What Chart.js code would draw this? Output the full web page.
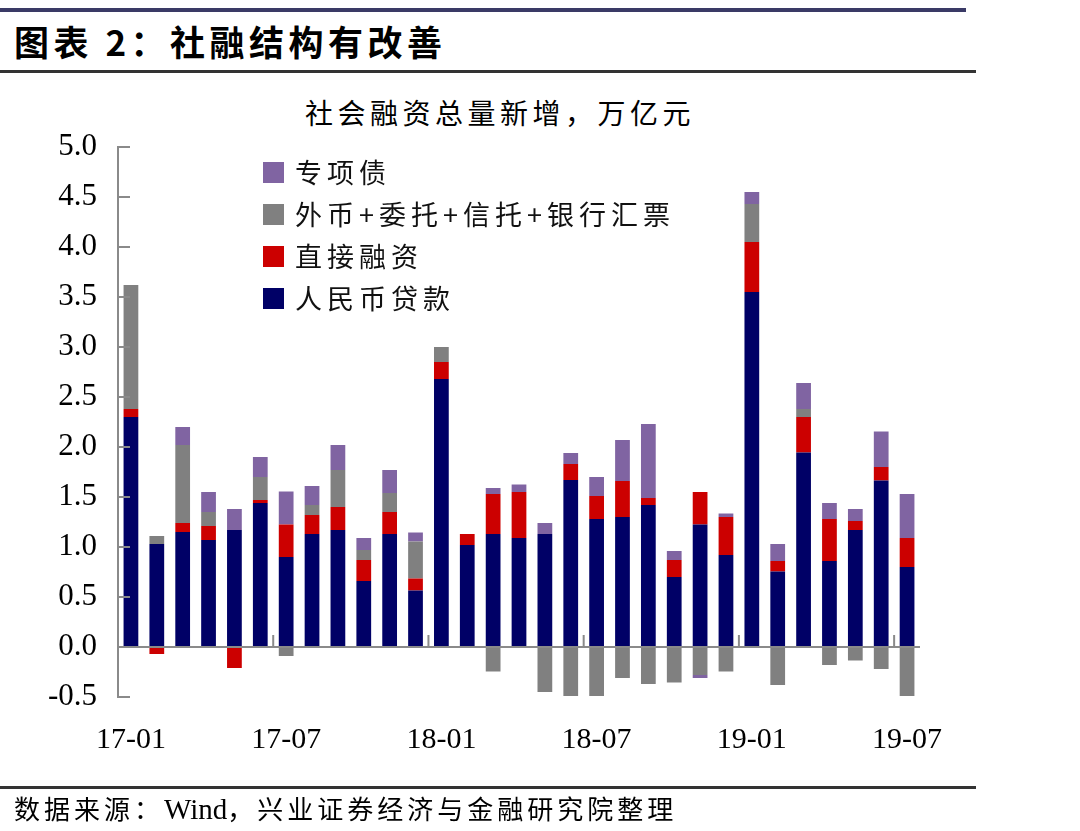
<!DOCTYPE html>
<html>
<head>
<meta charset="utf-8">
<script src="https://cdn.jsdelivr.net/npm/chart.js@4.4.1/dist/chart.umd.min.js"></script>
<style>
  html, body { margin:0; padding:0; background:#fff; }
  body { width:1080px; height:831px; position:relative; overflow:hidden; font-family:"Noto Sans CJK SC", sans-serif; }
  #wrap { position:absolute; left:0; top:0; width:1080px; height:831px; }
  .rule { position:absolute; left:0; }
  .txt { position:absolute; white-space:nowrap; color:#000; }
  #legend { position:absolute; left:263px; top:151px; }
  .li { position:relative; height:42px; display:flex; align-items:center; }
  .sw { width:21px; height:21px; margin-right:11px; }
  .lt { font-family:"Noto Sans CJK SC", sans-serif; font-size:27px; letter-spacing:5px; color:#111; line-height:28px; }
</style>
</head>
<body>
<div class="rule" style="top:8px;width:966px;height:4px;background:#3a3a66;"></div>
<div class="txt" id="hdr" style="left:14px;top:19px;font-size:35px;font-weight:bold;letter-spacing:4.5px;line-height:44px;">图表 2：社融结构有改善</div>
<div class="rule" style="top:70px;width:976px;height:3px;background:#333;"></div>
<div class="txt" id="ctitle" style="left:0;width:1000px;text-align:center;top:93px;font-size:28px;letter-spacing:4.5px;line-height:38px;">社会融资总量新增，万亿元</div>
<div id="wrap"><canvas id="c" width="1080" height="831"></canvas></div>
<div id="legend"></div>
<div class="rule" style="top:786px;width:976px;height:3px;background:#333;"></div>
<div class="txt" style="left:14px;top:791px;font-size:26px;letter-spacing:4px;line-height:34px;">数据来源：<span style="font-family:'Liberation Serif',serif;font-size:29px;letter-spacing:0;">Wind</span>，兴业证券经济与金融研究院整理</div>
<script>
const months = ["17-01","17-02","17-03","17-04","17-05","17-06","17-07","17-08","17-09","17-10","17-11","17-12",
  "18-01","18-02","18-03","18-04","18-05","18-06","18-07","18-08","18-09","18-10","18-11","18-12",
  "19-01","19-02","19-03","19-04","19-05","19-06","19-07"];
const seriesNames = ["人民币贷款","直接融资","外币+委托+信托+银行汇票","专项债"];
const rmbLoans = [2.30,1.03,1.15,1.07,1.17,1.44,0.90,1.13,1.17,0.66,1.13,0.565,2.68,1.02,1.13,1.09,1.13,1.67,1.28,1.30,1.42,0.70,1.225,0.92,3.55,0.755,1.945,0.86,1.17,1.665,0.80];
const directFin = [0.08,-0.07,0.09,0.14,-0.21,0.03,0.325,0.19,0.23,0.21,0.22,0.12,0.17,0.11,0.40,0.46,0,0.16,0.23,0.36,0.07,0.17,0.325,0.38,0.50,0.105,0.355,0.42,0.09,0.135,0.29];
const offBalance = [1.24,0.08,0.78,0.14,0,0.23,-0.09,0.10,0.37,0.10,0.19,0.37,0.15,0,-0.245,0,-0.45,-0.49,-0.49,-0.31,-0.37,-0.355,-0.28,-0.245,0.38,-0.38,0.08,-0.18,-0.135,-0.22,-0.49];
const specialBonds = [0,0,0.18,0.20,0.21,0.20,0.33,0.19,0.25,0.12,0.23,0.09,0,0,0.06,0.075,0.11,0.11,0.19,0.41,0.74,0.09,-0.03,0.035,0.12,0.17,0.26,0.16,0.12,0.355,0.44];
const yTicks = [-0.5,0,0.5,1,1.5,2,2.5,3,3.5,4,4.5,5];
const colors = ["#000066","#cc0000","#808080","#8064a2"];
const axisGray = "#8a8a8a";

const values = [rmbLoans, directFin, offBalance, specialBonds];
const datasets = values.map((v,i)=>({
  label: seriesNames[i], data: v, backgroundColor: colors[i], borderWidth:0,
  barPercentage:0.57, categoryPercentage:1.0, stack:'s'
}));

// HTML legend (reverse order)
const lg = document.getElementById('legend');
for (let i = seriesNames.length-1; i>=0; i--) {
  const d = document.createElement('div'); d.className='li';
  d.innerHTML = '<div class="sw" style="background:'+colors[i]+'"></div><div class="lt">'+seriesNames[i]+'</div>';
  lg.appendChild(d);
}

const tickPlugin = {
  id:'innerTicks',
  afterDatasetsDraw(chart){
    const ctx = chart.ctx, y = chart.scales.y, x = chart.scales.x;
    ctx.save();
    ctx.strokeStyle = axisGray; ctx.lineWidth = 2;
    ctx.beginPath();
    yTicks.forEach(v=>{ const py = Math.round(y.getPixelForValue(v)); ctx.moveTo(y.right, py); ctx.lineTo(y.right+12, py); });
    const y0 = y.getPixelForValue(0);
    for (let i=6;i<months.length;i+=6){
      const px = (x.getPixelForValue(i-1)+x.getPixelForValue(i))/2;
      ctx.moveTo(px, y0); ctx.lineTo(px, y0-12);
    }
    ctx.stroke();
    ctx.restore();
  }
};

new Chart(document.getElementById('c'), {
  type:'bar',
  data:{ labels: months, datasets },
  options:{
    responsive:false, animation:false,
    layout:{ padding:{ left:0, top:147, right:160, bottom:64 } },
    plugins:{ legend:{display:false}, title:{display:false}, tooltip:{enabled:false} },
    scales:{
      x:{
        stacked:true,
        grid:{ display:false, drawTicks:false },
        border:{ display:false },
        ticks:{ autoSkip:false, maxRotation:0, minRotation:0, padding:25, color:'#000',
          font:{ family:'"Liberation Serif", serif', size:30 },
          callback:(v,i)=> i%6===0 ? months[i] : '' },
        afterFit:(s)=>{ s.height = 70; }
      },
      y:{
        stacked:true, min:-0.5, max:5,
        afterBuildTicks:(s)=>{ s.ticks = yTicks.map(v=>({value:v})); },
        grid:{ drawTicks:false, lineWidth:2, color:(c)=> c.tick && c.tick.value===0 ? axisGray : 'rgba(0,0,0,0)' },
        border:{ display:true, color:axisGray, width:2 },
        ticks:{ padding:21, color:'#000', font:{ family:'"Liberation Serif", serif', size:31 },
          callback:(v)=> Number(v).toFixed(1) },
        afterFit:(s)=>{ s.width = 118; }
      }
    }
  },
  plugins:[tickPlugin]
});
</script>
</body>
</html>
